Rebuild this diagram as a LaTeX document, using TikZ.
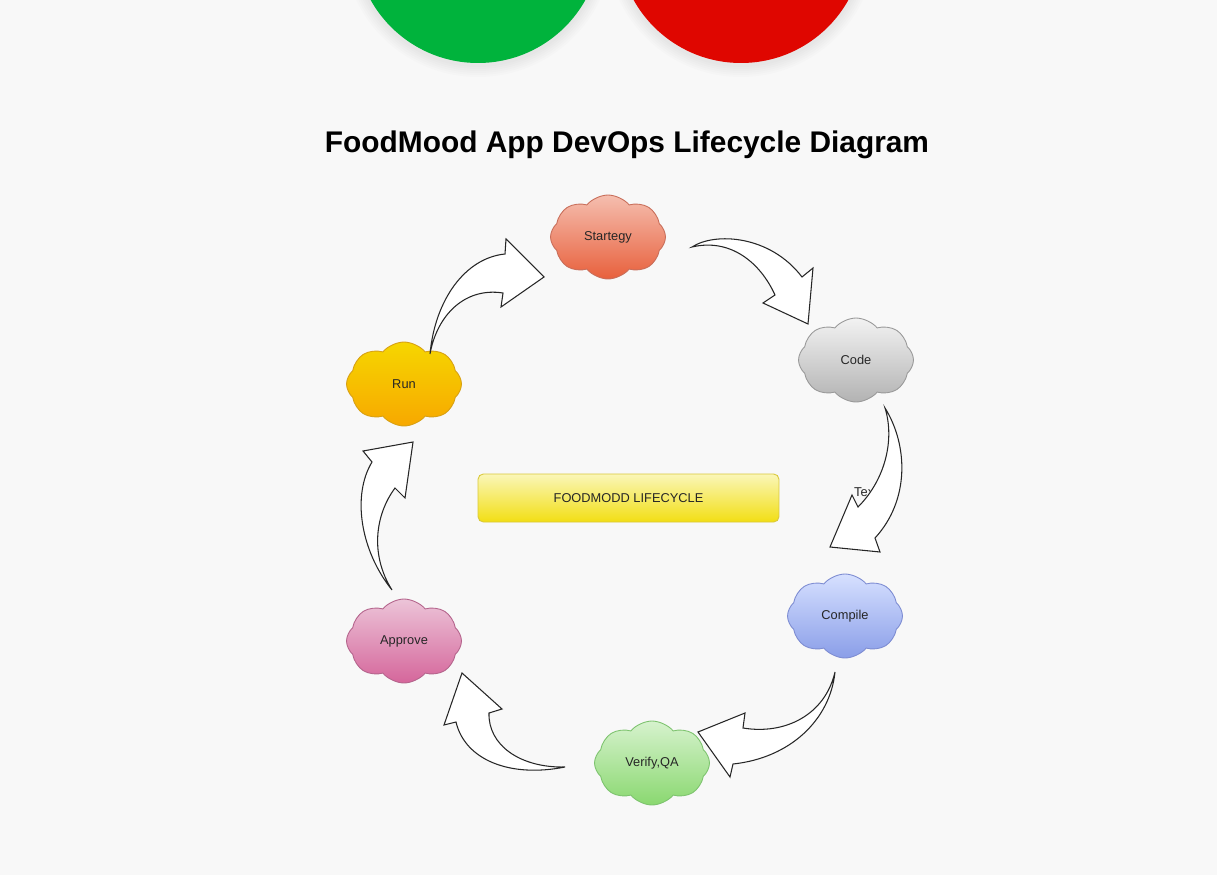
\documentclass[tikz,border=0pt]{standalone}
\usepackage{fontspec}
\setmainfont{Liberation Sans}
\usetikzlibrary{shapes.symbols}

\definecolor{pagebg}{HTML}{F8F8F8}
\definecolor{okgreen}{HTML}{00B33C}
\definecolor{stopred}{HTML}{DF0600}

\tikzset{
  stage/.style={cloud, cloud puffs=8, cloud puff arc=100, aspect=1.4,
    inner sep=0pt, minimum width=2.3cm, minimum height=1.68cm,
    line width=0.5pt, font=\fontsize{7.3}{9}\selectfont, text=black!85},
  bigarrow/.style={draw=black!85, fill=white, line width=0.6pt, line join=miter},
}

\begin{document}
\begin{tikzpicture}[x=0.02cm,y=-0.02cm]

\fill[pagebg] (0,0) rectangle (1217,875);
\clip (0,0) rectangle (1217,875);

\foreach \r in {2,4,...,12} {
  \fill[black,opacity=0.01] (478,-58) circle[radius=123+\r];
  \fill[black,opacity=0.01] (741,-58) circle[radius=123+\r];
}
\fill[okgreen] (478,-60) circle[radius=123];
\fill[stopred] (741,-60) circle[radius=123];

\node[font=\fontsize{17}{20}\selectfont\bfseries] (title) at (627,145)
  {FoodMood App DevOps Lifecycle Diagram};

\node[stage, draw={rgb,255:red,200;green,110;blue,90}, top color={rgb,255:red,245;green,190;blue,175}, bottom color={rgb,255:red,232;green,96;blue,60}] (strategy) at (608,237) {Startegy};
\node[stage, draw=black!40, top color=black!5, bottom color=black!30] (code) at (856,360) {Code};
\node[stage, draw={rgb,255:red,125;green,140;blue,210}, top color={rgb,255:red,214;green,224;blue,255}, bottom color={rgb,255:red,138;green,158;blue,232}] (compile) at (845,616) {Compile};
\node[stage, draw={rgb,255:red,125;green,195;blue,110}, top color={rgb,255:red,214;green,242;blue,205}, bottom color={rgb,255:red,138;green,216;blue,112}] (verify) at (652,763) {Verify,QA};
\node[stage, draw={rgb,255:red,180;green,100;blue,140}, top color={rgb,255:red,236;green,196;blue,216}, bottom color={rgb,255:red,213;green,102;blue,155}] (approve) at (404,641) {Approve};
\node[stage, draw={rgb,255:red,215;green,160;blue,20}, top color={rgb,255:red,246;green,214;blue,0}, bottom color={rgb,255:red,247;green,168;blue,0}] (run) at (404,384) {Run};

\node[draw={rgb,255:red,217;green,200;blue,58}, rounded corners=3pt,
  top color={rgb,255:red,250;green,246;blue,184}, bottom color={rgb,255:red,242;green,222;blue,20},
  minimum width=6.02cm, minimum height=0.96cm, line width=0.5pt,
  font=\fontsize{7.3}{9}\selectfont, text=black!85] (core) at (628.5,498) {FOODMODD LIFECYCLE};

\node[font=\fontsize{7.3}{9}\selectfont, text=black!85] (note) at (866,492) {Text};

\draw[bigarrow] (692,247) .. controls (715,232) and (770,235) .. (802,277)
  -- (813,268) -- (808,324) -- (763,303) -- (775,295)
  .. controls (760,262) and (730,238) .. (692,247) -- cycle;

\draw[bigarrow] (885,408) .. controls (908,445) and (910,500) .. (875,538)
  -- (880,552) -- (830,547) -- (852,495) -- (858,507)
  .. controls (885,480) and (895,440) .. (885,408) -- cycle;

\draw[bigarrow] (835,672) .. controls (825,715) and (785,735) .. (743,728)
  -- (745,713) -- (698,732) -- (730,777) -- (733,764)
  .. controls (790,758) and (830,720) .. (835,672) -- cycle;

\draw[bigarrow] (565,767) .. controls (520,768) and (488,745) .. (489,713)
  -- (502,709) -- (462,673) -- (444,725) -- (456,722)
  .. controls (465,760) and (510,778) .. (565,767) -- cycle;

\draw[bigarrow] (392,590) .. controls (360,550) and (352,495) .. (372,462)
  -- (363,451) -- (413,442) -- (405,498) -- (395,488)
  .. controls (375,515) and (370,555) .. (392,590) -- cycle;

\draw[bigarrow] (430,354) .. controls (435,300) and (465,258) .. (505,254)
  -- (506,239) -- (544,277) -- (501,307) -- (503,293)
  .. controls (465,287) and (437,315) .. (430,354) -- cycle;

\end{tikzpicture}
\end{document}
